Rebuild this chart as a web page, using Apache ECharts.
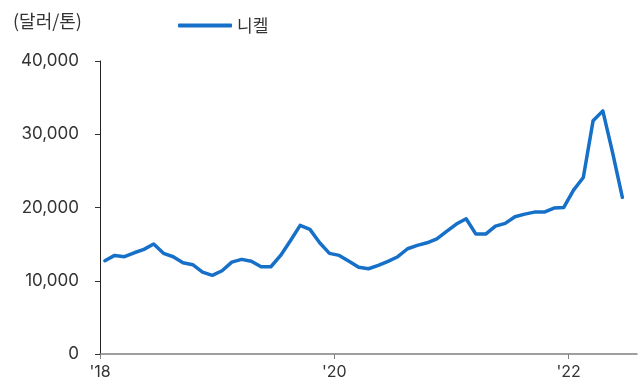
<!DOCTYPE html>
<html>
<head>
<meta charset="utf-8">
<script src="https://cdn.jsdelivr.net/npm/echarts@6/dist/echarts.min.js"></script>
<style>
  html, body { margin: 0; padding: 0; background: #ffffff; }
  #chart { width: 643px; height: 386px; }
</style>
</head>
<body>
<div id="chart"></div>
<script>
// Monthly nickel price (USD per tonne), Jan 2018 – Jun 2022
const startYear = 2018;
const startMonth = 1;
const nickel = [
  12730, 13460, 13280, 13820, 14280, 15010, 13740, 13280, 12460, 12190, 11190, 10740,
  11370, 12550, 12920, 12650, 11910, 11910, 13460, 15460, 17560, 17010, 15180, 13740,
  13460, 12650, 11830, 11640, 12100, 12650, 13280, 14370, 14830, 15180, 15730, 16740,
  17740, 18460, 16370, 16370, 17460, 17830, 18730, 19100, 19370, 19370, 19920, 20010,
  22370, 24100, 31830, 33190, 27500, 21380
];
const yTicks = [0, 10000, 20000, 30000, 40000];
const xTickYears = [2018, 2020, 2022];
const monthsShown = 55;
const unitLabel = '(달러/톤)';
const seriesName = '니켈';

// each monthly value sits at the middle of its month on a fractional-year axis
const points = nickel.map((v, i) => {
  const m = startMonth - 1 + i;
  return [startYear + (m + 0.5) / 12, v];
});

const chart = echarts.init(document.getElementById('chart'), null, { renderer: 'canvas' });
const FONT = 'Noto Sans CJK KR';
const NUM_FONT = 'Inter';

chart.setOption({
  animation: false,
  backgroundColor: '#ffffff',
  textStyle: { fontFamily: FONT },
  title: {
    text: unitLabel,
    left: 13,
    top: 12,
    padding: 0,
    textStyle: { fontFamily: FONT, fontSize: 18, fontWeight: 'normal', color: '#333333' }
  },
  legend: {
    data: [seriesName],
    left: 178,
    top: 17,
    padding: 0,
    icon: 'roundRect',
    itemWidth: 54,
    itemHeight: 4,
    itemGap: 10,
    textStyle: { fontFamily: FONT, fontSize: 17, color: '#333333' }
  },
  grid: { left: 100, right: 6, top: 61, bottom: 32 },
  xAxis: {
    type: 'value',
    min: startYear,
    max: startYear + monthsShown / 12,
    splitLine: { show: false },
    axisLine: { show: true, lineStyle: { color: '#808080', width: 1.5 } },
    axisTick: { show: true, customValues: xTickYears, length: 5, lineStyle: { color: '#808080' } },
    axisLabel: {
      customValues: xTickYears,
      margin: 10,
      fontFamily: NUM_FONT,
      fontSize: 16,
      color: '#333333',
      formatter: v => "'" + String(Math.round(v)).slice(2)
    }
  },
  yAxis: {
    type: 'value',
    min: yTicks[0],
    max: yTicks[yTicks.length - 1],
    interval: yTicks[1] - yTicks[0],
    splitLine: { show: false },
    axisLine: { show: true, lineStyle: { color: '#222222', width: 1 } },
    axisTick: { show: true, length: 5, lineStyle: { color: '#333333' } },
    axisLabel: {
      margin: 21,
      fontFamily: NUM_FONT,
      fontSize: 17,
      color: '#333333',
      formatter: v => v.toLocaleString('en-US')
    }
  },
  series: [{
    name: seriesName,
    type: 'line',
    data: points,
    showSymbol: false,
    symbol: 'none',
    lineStyle: { color: '#1670C8', width: 3.5, cap: 'round', join: 'round' },
    itemStyle: { color: '#1670C8' }
  }]
});
</script>
</body>
</html>
